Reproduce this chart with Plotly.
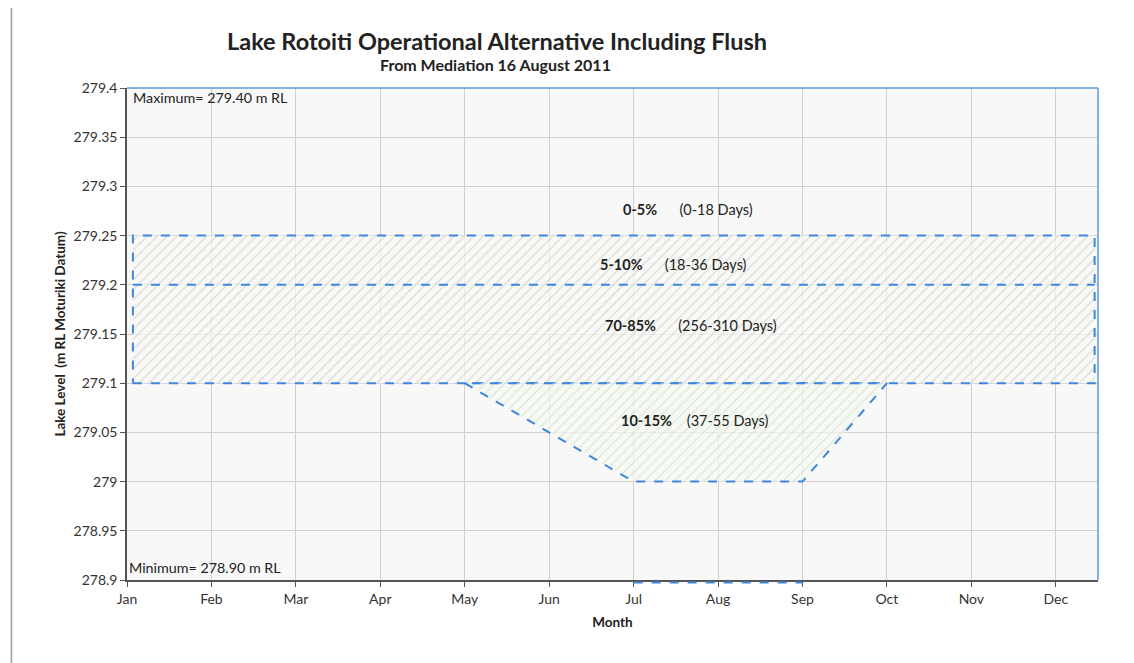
import plotly.graph_objects as go

months = ["Jan", "Feb", "Mar", "Apr", "May", "Jun", "Jul", "Aug", "Sep", "Oct", "Nov", "Dec"]
month_pos = list(range(12))

y_ticks = [278.9, 278.95, 279.0, 279.05, 279.1, 279.15, 279.2, 279.25, 279.3, 279.35, 279.4]
y_tick_text = ["278.9", "278.95", "279", "279.05", "279.1", "279.15", "279.2", "279.25", "279.3", "279.35", "279.4"]

level_max = 279.40
level_min = 278.90

# band boundaries (lake level, m RL)
band_low = 279.10
band_mid = 279.20
band_high = 279.25
band_x = [0.07, 11.46]

# flush trapezoid (month position, lake level)
flush_x = [4, 6, 8, 9]
flush_y = [279.10, 279.00, 279.00, 279.10]
flush_bottom_x = [6, 8]

labels = [
    ("0-5%", "(0-18 Days)", 6.64, 279.277, 6),
    ("5-10%", "(18-36 Days)", 6.47, 279.221, 6),
    ("70-85%", "(256-310 Days)", 6.68, 279.159, 6),
    ("10-15%", "(37-55 Days)", 6.73, 279.062, 4),
]

BLUE = "#3f86dc"
FONT = "Lato"

fig = go.Figure()

# hatched band rectangle
fig.add_trace(go.Scatter(
    x=[band_x[0], band_x[1], band_x[1], band_x[0], band_x[0]],
    y=[band_low, band_low, band_high, band_high, band_low],
    mode="lines", fill="toself",
    fillcolor="rgba(255,255,255,0)",
    fillpattern=dict(shape="/", fgcolor="rgba(170,175,160,0.75)", bgcolor="rgba(250,251,248,0.7)", size=7, solidity=0.2),
    line=dict(color=BLUE, width=2, dash="dash"),
    hoverinfo="skip", showlegend=False,
))
# middle line of band
fig.add_trace(go.Scatter(
    x=band_x, y=[band_mid, band_mid], mode="lines",
    line=dict(color=BLUE, width=2, dash="dash"),
    hoverinfo="skip", showlegend=False,
))
# flush trapezoid
fig.add_trace(go.Scatter(
    x=flush_x + [flush_x[0]], y=flush_y + [flush_y[0]],
    mode="lines", fill="toself",
    fillcolor="rgba(255,255,255,0)",
    fillpattern=dict(shape="/", fgcolor="rgba(170,200,150,0.65)", bgcolor="rgba(247,250,244,0.7)", size=7, solidity=0.2),
    line=dict(color=BLUE, width=2, dash="dash"),
    hoverinfo="skip", showlegend=False,
))

annotations = []
for bold, days, lx, ly, gap in labels:
    annotations.append(dict(
        x=lx, y=ly, xref="x", yref="y",
        text=f"<b>{bold}</b>{' ' * gap}{days}", showarrow=False,
        font=dict(family=FONT, size=14.5, color="#222222"),
    ))
annotations.append(dict(x=0.05, y=level_max, xref="x", yref="y", xanchor="left", yanchor="top",
                        text=f"Maximum= {level_max:.2f} m RL", showarrow=False, yshift=1,
                        font=dict(family=FONT, size=14.3, color="#222222")))
annotations.append(dict(x=0.0, y=level_min, xref="x", yref="y", xanchor="left", yanchor="bottom",
                        text=f"Minimum= {level_min:.2f} m RL", showarrow=False, yshift=2,
                        font=dict(family=FONT, size=14.3, color="#222222")))
annotations.append(dict(x=0.381, y=1.0, xref="paper", yref="paper", yanchor="bottom", yshift=31,
                        text="<b>Lake Rotoiti Operational Alternative Including Flush</b>", showarrow=False,
                        font=dict(family=FONT, size=23.5, color="#222222")))
annotations.append(dict(x=0.379, y=1.0, xref="paper", yref="paper", yanchor="bottom", yshift=12,
                        text="<b>From Mediation 16 August 2011</b>", showarrow=False,
                        font=dict(family=FONT, size=16, color="#222222")))

shapes = [
    # blue top and right plot border
    dict(type="line", xref="x domain", yref="y domain", x0=0, x1=1, y0=1, y1=1,
         line=dict(color="#5b9bd5", width=1.5)),
    dict(type="line", xref="x domain", yref="y domain", x0=1, x1=1, y0=0, y1=1,
         line=dict(color="#5b9bd5", width=1.5)),
    # dashed flush line along the minimum level, just under the axis line
    dict(type="line", xref="x", yref="paper", x0=flush_bottom_x[0], x1=flush_bottom_x[1],
         y0=-0.005, y1=-0.005, line=dict(color=BLUE, width=2, dash="dash")),
    # scanned page edge
    dict(type="line", xref="paper", yref="paper", x0=-0.119, x1=-0.119, y0=-0.2, y1=1.2,
         line=dict(color="#9a9a9a", width=1.5)),
]

# page is shown with an 8 px body margin, so the figure is sized to fit the window
fig.update_layout(
    width=1126, height=655,
    margin=dict(l=119, r=36, t=80, b=83),
    paper_bgcolor="white", plot_bgcolor="#f8f8f8",
    font=dict(family=FONT, size=14, color="#333333"),
    annotations=annotations, shapes=shapes,
    showlegend=False,
)
fig.update_xaxes(
    range=[0, 11.5], tickvals=month_pos, ticktext=months,
    showgrid=True, gridcolor="#d0d0d0", gridwidth=1,
    showline=True, linecolor="#555555", linewidth=1.5,
    ticks="outside", ticklen=5, tickcolor="#555555",
    tickfont=dict(family=FONT, size=14, color="#333333"),
    title=dict(text="<b>Month</b>", font=dict(family=FONT, size=13.5, color="#222222"), standoff=12),
    zeroline=False,
)
fig.update_yaxes(
    range=[level_min, level_max], tickvals=y_ticks, ticktext=y_tick_text,
    showgrid=True, gridcolor="#d0d0d0", gridwidth=1,
    showline=True, linecolor="#555555", linewidth=1.5,
    ticks="outside", ticklen=5, tickcolor="#555555",
    tickfont=dict(family=FONT, size=14, color="#333333"),
    title=dict(text="<b>Lake Level  (m RL Moturiki Datum)</b>", font=dict(family=FONT, size=13.5, color="#222222"), standoff=5),
    zeroline=False,
)

fig.write_html("out.html")
